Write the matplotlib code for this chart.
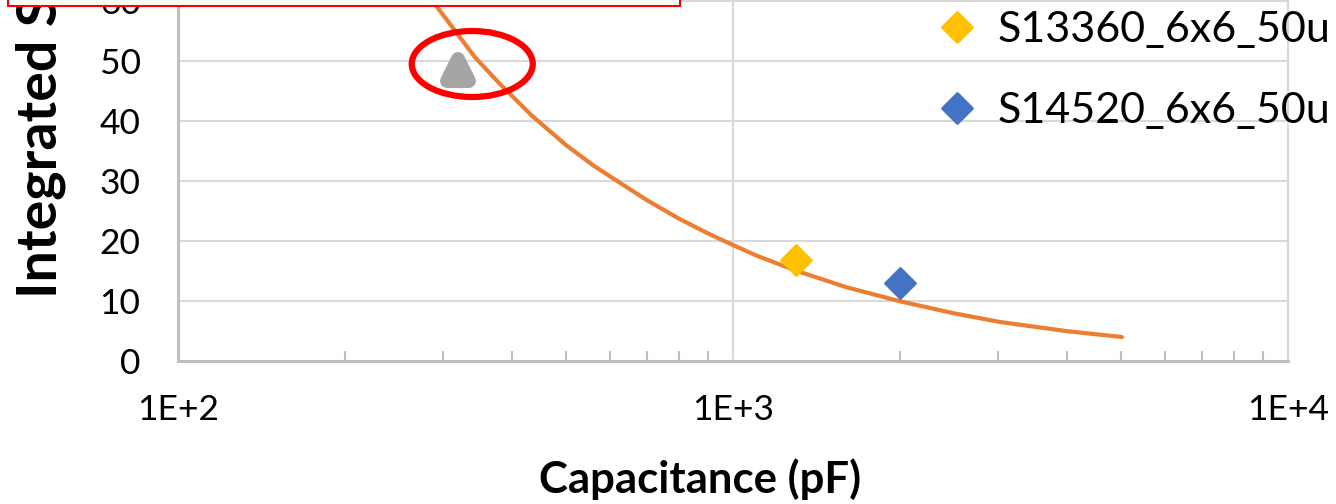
import matplotlib
matplotlib.use("Agg")
import matplotlib.pyplot as plt
from matplotlib.patches import Ellipse, Rectangle
from matplotlib.lines import Line2D
from matplotlib.markers import MarkerStyle
from matplotlib.transforms import ScaledTranslation
from matplotlib.ticker import FixedLocator, NullFormatter

# Measured devices
cap_s13360 = [1300]
sig_s13360 = [16.8]
cap_s14520 = [2000]
sig_s14520 = [13.0]
cap_other = [320]
sig_other = [48.5]

# Expected signal vs. detector capacitance
cap_model = [265, 280, 293, 310, 343, 380, 434, 500, 560, 628, 700, 800, 900,
             980, 1100, 1304, 1600, 2000, 2500, 3028, 4000, 5022]
sig_model = [64.5, 61.5, 59.0, 56.0, 50.6, 46.2, 40.9, 36.0, 32.6, 29.6, 26.8,
             23.7, 21.3, 19.7, 17.6, 15.0, 12.3, 9.95, 7.95, 6.5, 4.97, 4.0]

x_ticks = [100, 1000, 10000]
x_tick_labels = ["1E+2", "1E+3", "1E+4"]
y_ticks = [0, 10, 20, 30, 40, 50, 60]
series_labels = ["S13360_6x6_50u", "S14520_6x6_50u"]

# highlighted point (ring centre)
ring_center = (339, 49.5)

plt.rcParams["font.family"] = ["Lato", "DejaVu Sans"]

W, H = 1336, 504
fig = plt.figure(figsize=(W / 100, H / 100), dpi=100)
ax = fig.add_axes([178 / W, 143 / H, 1110 / W, 420 / H])

ax.set_xscale("log")
ax.set_xlim(100, 10000)
ax.set_ylim(0, 70)
ax.set_yticks(y_ticks)
ax.set_xticks(x_ticks, x_tick_labels)
ax.xaxis.set_minor_locator(FixedLocator([k * 10 ** e for e in (2, 3) for k in range(2, 10)]))
ax.xaxis.set_minor_formatter(NullFormatter())

ax.grid(True, which="major", color="#d9d9d9", lw=1.5)
ax.set_axisbelow(True)
ax.tick_params(axis="both", which="major", length=0, labelsize=25.5, labelcolor="black")
ax.tick_params(axis="y", pad=27)
ax.tick_params(axis="x", pad=24)
ax.tick_params(axis="x", which="minor", direction="in", length=7.2, width=1.5, color="#bfbfbf")

ax.spines["top"].set_visible(False)
for side in ("left", "bottom"):
    ax.spines[side].set_color("#bfbfbf")
    ax.spines[side].set_linewidth(2.2)
ax.spines["right"].set_color("#d9d9d9")
ax.spines["right"].set_linewidth(1.5)

ax.plot(cap_model, sig_model, color="#ed7d31", lw=3, solid_capstyle="round",
        solid_joinstyle="round", zorder=2)

tri = MarkerStyle("^", joinstyle="round")
dia = MarkerStyle("D", joinstyle="round")
ax.plot(cap_other, sig_other, ls="none", marker=tri, ms=16, color="#a5a5a5", mew=10, zorder=3)
ax.plot(cap_s13360, sig_s13360, ls="none", marker=dia, ms=15, color="#ffc000", mew=2, zorder=3)
ax.plot(cap_s14520, sig_s14520, ls="none", marker=dia, ms=15, color="#4472c4", mew=2, zorder=3)

h1 = Line2D([], [], ls="none", marker=dia, ms=15, color="#ffc000", mew=2)
h2 = Line2D([], [], ls="none", marker=dia, ms=15, color="#4472c4", mew=2)
ax.legend(handles=[h1, h2], labels=series_labels, loc="upper left",
          bbox_to_anchor=(935.5 / W, (H - 11.5) / H), bbox_transform=fig.transFigure,
          frameon=False, fontsize=31, handlelength=1.0, handletextpad=0.45,
          labelspacing=0.98, borderpad=0, borderaxespad=0)

ring = Ellipse((0, 0), 1.21, 0.66,
               transform=fig.dpi_scale_trans + ScaledTranslation(*ring_center, ax.transData),
               fill=False, ec="#ff0000", lw=4.5, zorder=5)
fig.add_artist(ring)

box = Rectangle((8 / W, (H - 6) / H), 672 / W, 40 / H, transform=fig.transFigure,
                facecolor="white", edgecolor="#ff0000", lw=1.5, zorder=10)
fig.add_artist(box)

fig.text(700 / W, 25 / H, "Capacitance (pF)", ha="center", va="center",
         fontsize=31.5, fontweight="bold")
fig.text(40 / W, 206 / H, "Integrated Signal (a.u.)", rotation=90, ha="center",
         va="bottom", fontsize=40, fontweight="bold")

fig.savefig("out.png", dpi=100)
